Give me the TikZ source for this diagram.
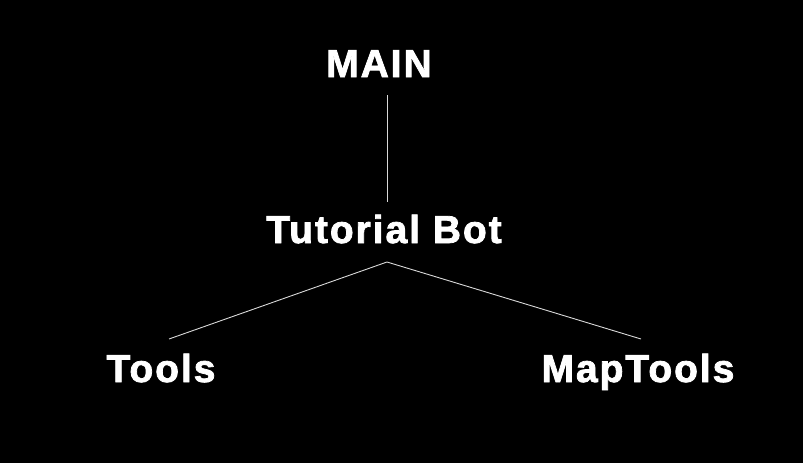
\documentclass[tikz,border=0pt]{standalone}
\usepackage{fontspec}
\setmainfont{Liberation Sans}
\newfontfamily\heavyfont{Liberation Sans Bold}[FakeBold=2, LetterSpace=5]
\usetikzlibrary{positioning}

\begin{document}
\begin{tikzpicture}[x=1pt, y=-1pt,
        lbl/.style={text=white, font=\heavyfont\fontsize{39}{46}\selectfont, inner sep=0pt, anchor=base},
        link/.style={draw=white!85!black, line width=0.9pt}]

        \fill[black] (0,0) rectangle (803,463);
        \useasboundingbox (0,0) rectangle (803,463);

        \node[lbl] (main) at (379,77) {MAIN};
        \node[lbl] (bot) at (384,243) {Tutorial Bot};
        \node[lbl] (tools) at (161,382) {Tools};
        \node[lbl] (maptools) at (638,382) {MapTools};

        \coordinate (hub) at (387,262);
        \coordinate (tools-end) at (169,339);
        \coordinate (maptools-end) at (641,339);

        \draw[link] ([yshift=-18pt]main.base -| hub) -- ([yshift=13pt]bot.north -| hub);
        \draw[link] (tools-end) -- (hub) -- (maptools-end);

    \end{tikzpicture}
\end{document}
